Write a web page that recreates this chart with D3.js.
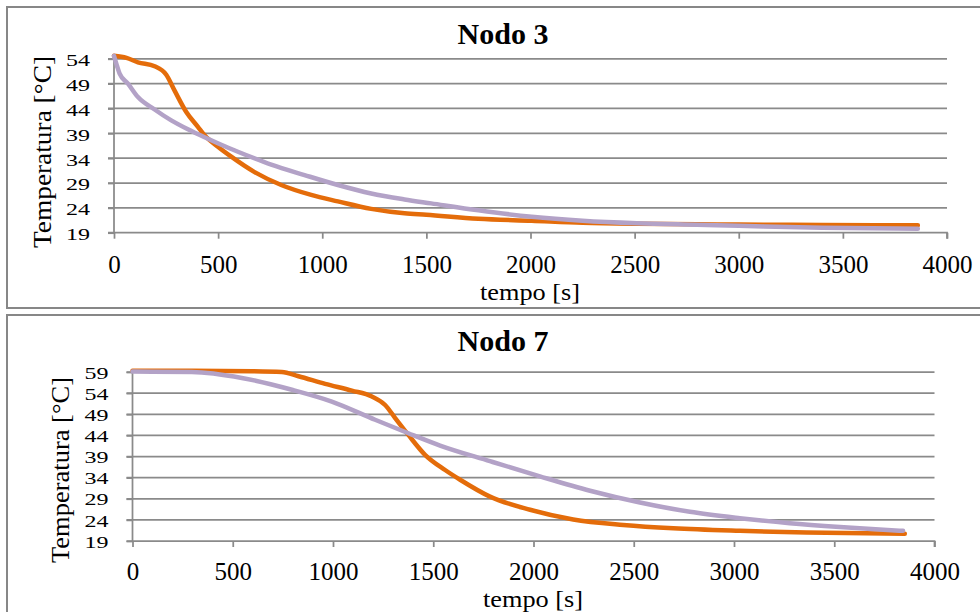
<!DOCTYPE html>
<html>
<head>
<meta charset="utf-8">
<script src="https://cdn.jsdelivr.net/npm/d3@7"></script>
<style>
  html, body { margin: 0; padding: 0; background: #ffffff; }
  svg { display: block; }
  text { font-family: "Liberation Serif", "Times New Roman", "DejaVu Serif", serif; fill: #000; }
</style>
</head>
<body>
<svg id="chart" width="980" height="612"></svg>
<script>
// ---- Nodo 3 ----
const nodo3TempiA = [0, 60, 115, 195, 251, 291, 347, 403, 435, 499, 563, 675, 803, 947, 1075, 1235, 1395, 1500, 1750, 2006, 2250, 2510, 2800, 3000, 3400, 3860];
const nodo3ValoriA = [54.6, 54.2, 53.3, 52.5, 50.8, 47.6, 43.3, 40.3, 38.6, 36.3, 34.3, 31.2, 28.6, 26.6, 25.3, 23.8, 22.9, 22.6, 21.8, 21.4, 21.0, 20.8, 20.7, 20.65, 20.55, 20.5];
const nodo3TempiB = [0, 15, 27, 67, 115, 195, 275, 355, 435, 515, 595, 755, 915, 1075, 1235, 1395, 1523, 1750, 2006, 2250, 2510, 2800, 3000, 3400, 3860];
const nodo3ValoriB = [54.6, 52.5, 51.0, 49.0, 46.3, 43.8, 41.6, 39.8, 38.2, 36.7, 35.3, 32.7, 30.6, 28.6, 26.9, 25.7, 24.9, 23.5, 22.2, 21.4, 20.9, 20.6, 20.4, 20.0, 19.8];
const nodo3TickY = [19, 24, 29, 34, 39, 44, 49, 54];

// ---- Nodo 7 ----
const nodo7TempiA = [0, 300, 600, 745, 828, 961, 1094, 1194, 1260, 1310, 1376, 1459, 1559, 1634, 1783, 1983, 2198, 2448, 2697, 3029, 3362, 3852];
const nodo7ValoriA = [59.3, 59.3, 59.2, 59.0, 58.0, 56.2, 54.6, 53.2, 51.2, 48.1, 44.1, 39.4, 35.8, 33.5, 29.5, 26.4, 24.1, 22.8, 22.0, 21.4, 21.0, 20.7];
const nodo7TempiB = [0, 296, 545, 795, 994, 1210, 1376, 1534, 1783, 2032, 2282, 2531, 2780, 3029, 3278, 3528, 3843];
const nodo7ValoriB = [59.1, 59.0, 57.6, 54.8, 52.0, 47.7, 44.5, 41.6, 37.9, 34.3, 30.9, 28.1, 25.9, 24.4, 23.2, 22.3, 21.4];
const nodo7TickY = [19, 24, 29, 34, 39, 44, 49, 54, 59];

const tickX = [0, 500, 1000, 1500, 2000, 2500, 3000, 3500, 4000];

const coloreA = "#e46c0a";
const coloreB = "#b3a2c7";
const grigio = "#8a8a8a";
const serifFont = "'Liberation Serif', 'Times New Roman', 'DejaVu Serif', serif";

const svg = d3.select("#chart");

function zip(ts, vs) { return ts.map((t, i) => ({ t: t, v: vs[i] })); }

function pannello(cfg) {
  const g = svg.append("g");

  // frame
  g.append("rect")
    .attr("x", 7).attr("y", cfg.boxTop)
    .attr("width", 1000).attr("height", cfg.boxH)
    .attr("fill", "#fff").attr("stroke", "#878787").attr("stroke-width", 2);

  const x = d3.scaleLinear().domain([0, 4000]).range([cfg.x0, cfg.x1]);
  const y = d3.scaleLinear().domain([19, cfg.yMax]).range([cfg.yBottom, cfg.yTop]);

  // horizontal gridlines with outward ticks
  g.append("g").selectAll("line").data(cfg.ticksY.filter(d => d !== 19)).join("line")
    .attr("x1", cfg.x0 - 6).attr("x2", cfg.x1)
    .attr("y1", d => y(d)).attr("y2", d => y(d))
    .attr("stroke", grigio).attr("stroke-width", 1.75);

  // x axis
  const xAxis = d3.axisBottom(x).tickValues(tickX).tickSize(6).tickSizeOuter(0).tickFormat(d3.format("d"));
  const gx = g.append("g").attr("transform", `translate(0,${cfg.yBottom})`).call(xAxis)
    .attr("font-family", serifFont);
  gx.select(".domain").attr("stroke", grigio).attr("stroke-width", 1.75)
    .attr("d", `M${cfg.x0 - 6},0H${cfg.x1}V6`);
  gx.selectAll(".tick line").attr("stroke", grigio).attr("stroke-width", 1.75);
  gx.selectAll(".tick text")
    .attr("y", cfg.xLabelBase - cfg.yBottom).attr("dy", 0)
    .style("font-family", serifFont)
    .style("font-size", "25px").attr("fill", "#000");

  // y axis
  const yAxis = d3.axisLeft(y).tickValues(cfg.ticksY).tickSize(6).tickSizeOuter(0).tickFormat(d3.format("d"));
  const gy = g.append("g").attr("transform", `translate(${cfg.x0},0)`).call(yAxis)
    .attr("font-family", serifFont);
  gy.select(".domain").attr("stroke", grigio).attr("stroke-width", 1.75)
    .attr("d", `M0,${cfg.yTop}V${cfg.yBottom}`);
  gy.selectAll(".tick line").attr("stroke", grigio).attr("stroke-width", 1.75);
  gy.selectAll(".tick text")
    .attr("x", -24).attr("dy", 0)
    .attr("transform", `translate(0,${cfg.labelShift}) scale(1,${cfg.squash})`)
    .attr("dominant-baseline", "central")
    .style("font-family", serifFont)
    .style("font-size", "24px").attr("fill", "#000");

  // series
  const linea = d3.line().x(d => x(d.t)).y(d => y(d.v)).curve(d3.curveMonotoneX);
  g.append("path").datum(zip(cfg.tA, cfg.vA))
    .attr("d", linea).attr("fill", "none")
    .attr("stroke", coloreA).attr("stroke-width", 4.5)
    .attr("stroke-linejoin", "round").attr("stroke-linecap", "round");
  g.append("path").datum(zip(cfg.tB, cfg.vB))
    .attr("d", linea).attr("fill", "none")
    .attr("stroke", coloreB).attr("stroke-width", 4.5)
    .attr("stroke-linejoin", "round").attr("stroke-linecap", "round");

  // title
  g.append("text").attr("x", 503).attr("y", cfg.titleBase)
    .attr("text-anchor", "middle")
    .style("font-family", serifFont)
    .style("font-weight", "bold").style("font-size", "30px")
    .text(cfg.titolo);

  // axis titles
  g.append("text")
    .attr("transform", `translate(${cfg.yTitleX},${cfg.yTitleY}) rotate(-90)`)
    .attr("text-anchor", "middle")
    .attr("textLength", cfg.yTitleLen).attr("lengthAdjust", "spacingAndGlyphs")
    .style("font-family", serifFont)
    .style("font-size", "26px")
    .text("Temperatura [°C]");
  g.append("text").attr("x", cfg.xTitleX).attr("y", cfg.xTitleBase)
    .attr("text-anchor", "middle")
    .attr("textLength", 100).attr("lengthAdjust", "spacingAndGlyphs")
    .style("font-family", serifFont)
    .style("font-size", "24px")
    .text("tempo [s]");
}

pannello({
  titolo: "Nodo 3", boxTop: 7, boxH: 301,
  x0: 114, x1: 947, yTop: 58.8, yBottom: 232.7, yMax: 54,
  ticksY: nodo3TickY, squash: 0.73, labelShift: 1,
  tA: nodo3TempiA, vA: nodo3ValoriA, tB: nodo3TempiB, vB: nodo3ValoriB,
  xLabelBase: 273, titleBase: 43.5,
  yTitleX: 51, yTitleY: 152, yTitleLen: 192,
  xTitleX: 530, xTitleBase: 300
});

pannello({
  titolo: "Nodo 7", boxTop: 315, boxH: 400,
  x0: 132.5, x1: 934.5, yTop: 372, yBottom: 541, yMax: 59,
  ticksY: nodo7TickY, squash: 0.7, labelShift: 0.5,
  tA: nodo7TempiA, vA: nodo7ValoriA, tB: nodo7TempiB, vB: nodo7ValoriB,
  xLabelBase: 580, titleBase: 351,
  yTitleX: 69, yTitleY: 470, yTitleLen: 186,
  xTitleX: 533, xTitleBase: 607
});
</script>
</body>
</html>
